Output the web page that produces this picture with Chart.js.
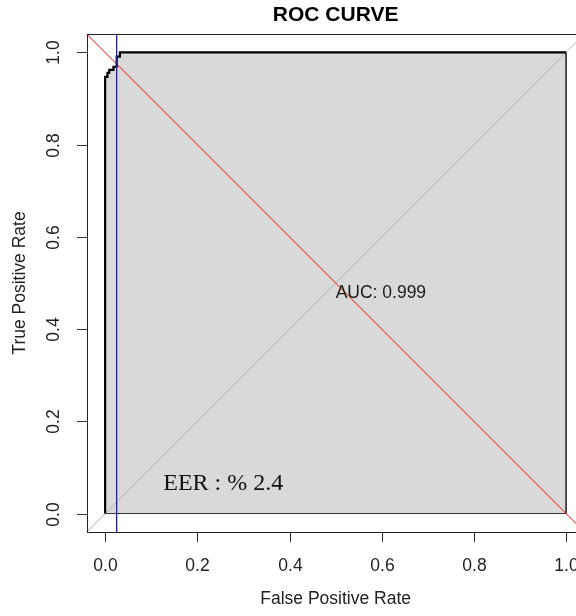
<!DOCTYPE html>
<html>
<head>
<meta charset="utf-8">
<script src="https://cdn.jsdelivr.net/npm/chart.js@4/dist/chart.umd.min.js"></script>
<style>
html,body{margin:0;padding:0;background:#fff;overflow:hidden;}
#wrap{width:576px;height:616px;position:relative;}
</style>
</head>
<body>
<div id="wrap"><canvas id="c" width="576" height="616"></canvas></div>
<script>
// ---- data ----
const chartTitle = 'ROC CURVE';
const xAxisTitle = 'False Positive Rate';
const yAxisTitle = 'True Positive Rate';
const rocFPR = [0, 0, 0.005, 0.005, 0.009, 0.009, 0.018, 0.018, 0.025, 0.025, 0.032, 0.032, 1];
const rocTPR = [0, 0.947, 0.947, 0.956, 0.956, 0.962, 0.962, 0.969, 0.969, 0.991, 0.991, 1, 1];
const eerX = 0.025;
const tickValues = [0, 0.2, 0.4, 0.6, 0.8, 1.0];
const tickLabels = ['0.0', '0.2', '0.4', '0.6', '0.8', '1.0'];
const aucText = 'AUC: 0.999';
const aucPos = [0.5, 0.478];
const eerText = 'EER : % 2.4';
const eerPos = [0.126, 0.064];
const axisMin = -0.04, axisMax = 1.04;

// ---- build datasets ----
const rocPts = rocFPR.map((x, i) => ({x: x, y: rocTPR[i]}));
const fillPts = rocPts.concat([{x: 1, y: 0}]);
const polyPts = rocPts.concat([{x: 1, y: 0}, {x: 0, y: 0}]);

const SANS = '"Liberation Sans", Arial, sans-serif';
const SERIF = '"Liberation Serif", "Times New Roman", serif';

const rAxes = {
  id: 'rAxes',
  afterDatasetsDraw(chart) {
    const ctx = chart.ctx;
    const xs = chart.scales.x, ys = chart.scales.y;
    const L = xs.getPixelForValue(axisMin), R = xs.getPixelForValue(axisMax);
    const T = ys.getPixelForValue(axisMax), B = ys.getPixelForValue(axisMin);
    ctx.save();
    // texts inside plot
    ctx.fillStyle = '#1a1a1a';
    ctx.font = '17.5px ' + SANS;
    ctx.textAlign = 'left'; ctx.textBaseline = 'middle';
    ctx.fillText(aucText, xs.getPixelForValue(aucPos[0]), ys.getPixelForValue(aucPos[1]));
    ctx.fillStyle = '#111';
    ctx.font = '24px ' + SERIF;
    ctx.fillText(eerText, xs.getPixelForValue(eerPos[0]), ys.getPixelForValue(eerPos[1]));
    // box
    ctx.strokeStyle = '#222'; ctx.lineWidth = 1;
    ctx.strokeRect(Math.round(L) + 0.5, Math.round(T) + 0.5, R - L, Math.round(B) - Math.round(T));
    // ticks
    ctx.strokeStyle = '#333';
    ctx.fillStyle = '#222';
    ctx.font = '17.5px ' + SANS;
    tickValues.forEach((v, i) => {
      const px = Math.round(xs.getPixelForValue(v)) + 0.5;
      ctx.beginPath(); ctx.moveTo(px, Math.round(B)); ctx.lineTo(px, Math.round(B) + 10); ctx.stroke();
      ctx.textAlign = 'center'; ctx.textBaseline = 'middle';
      ctx.fillText(tickLabels[i], px, 566);
      const py = Math.round(ys.getPixelForValue(v)) + 0.5;
      ctx.beginPath(); ctx.moveTo(Math.round(L), py); ctx.lineTo(Math.round(L) - 10, py); ctx.stroke();
      ctx.save();
      ctx.translate(54, py);
      ctx.rotate(-Math.PI / 2);
      ctx.fillText(tickLabels[i], 0, 0);
      ctx.restore();
    });
    // axis titles
    const cx = (L + R) / 2, cy = (T + B) / 2;
    ctx.textAlign = 'center'; ctx.textBaseline = 'middle';
    ctx.fillText(xAxisTitle, cx, 599);
    ctx.save();
    ctx.translate(20, cy);
    ctx.rotate(-Math.PI / 2);
    ctx.fillText(yAxisTitle, 0, 0);
    ctx.restore();
    // main title
    ctx.fillStyle = '#000';
    ctx.font = 'bold 21px ' + SANS;
    ctx.fillText(chartTitle, cx, 15);
    ctx.restore();
  }
};

const pxPerUnit = 461;
const leftPad = 86.7;
const xMaxVisible = axisMin + (576 - leftPad) / pxPerUnit;

new Chart(document.getElementById('c'), {
  type: 'scatter',
  data: {
    datasets: [
      { // eer vertical line
        data: [{x: eerX, y: axisMin}, {x: eerX, y: axisMax}],
        showLine: true, borderColor: '#1c1cb8', borderWidth: 1.3, pointRadius: 0, order: 0
      },
      { // roc curve
        data: rocPts,
        showLine: true, borderColor: '#000', borderWidth: 2.2, pointRadius: 0, order: 1
      },
      { // red diagonal
        data: [{x: axisMin, y: axisMax}, {x: axisMax, y: axisMin}],
        showLine: true, borderColor: '#f01010', borderWidth: 1, pointRadius: 0, order: 2
      },
      { // grey diagonal
        data: [{x: axisMin, y: axisMin}, {x: axisMax, y: axisMax}],
        showLine: true, borderColor: '#b0b0b0', borderWidth: 1, pointRadius: 0, order: 3
      },
      { // polygon border
        data: polyPts,
        showLine: true, fill: false, borderColor: '#333', borderWidth: 1, pointRadius: 0, order: 4
      },
      { // filled area
        data: fillPts,
        showLine: true, fill: 'origin', backgroundColor: '#d9d9d9', borderColor: 'rgba(0,0,0,0)', borderWidth: 0, pointRadius: 0, order: 5
      }
    ]
  },
  options: {
    responsive: false,
    animation: false,
    layout: {padding: {left: leftPad, top: 34, right: 0, bottom: 84}},
    plugins: {legend: {display: false}, tooltip: {enabled: false}, filler: {drawTime: 'beforeDatasetDraw'}},
    scales: {
      x: {type: 'linear', display: false, min: axisMin, max: xMaxVisible},
      y: {type: 'linear', display: false, min: axisMin, max: axisMax}
    }
  },
  plugins: [rAxes]
});
</script>
</body>
</html>
